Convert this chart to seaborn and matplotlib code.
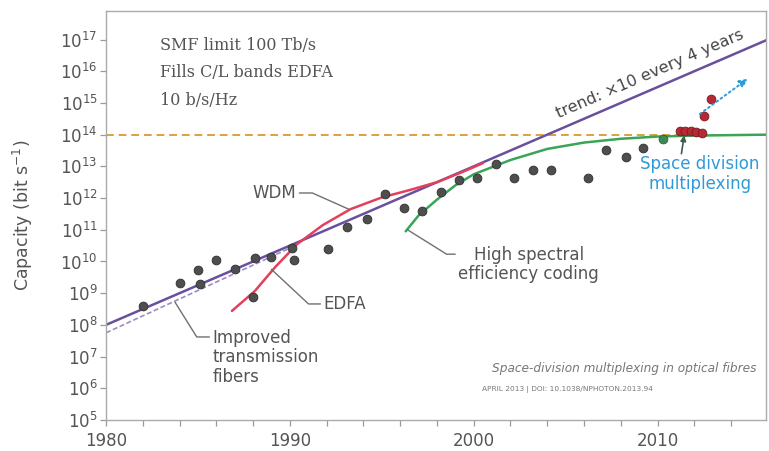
import math
import matplotlib
matplotlib.use("Agg")
import matplotlib.pyplot as plt
from matplotlib.ticker import FixedLocator, MultipleLocator, NullLocator, LogFormatterMathtext
import pandas as pd
import seaborn as sns

# Record transmission experiments: year and log10 of capacity (bit/s)
exp_years = [1982.0, 1984.0, 1985.0, 1985.1, 1986.0, 1987.0, 1988.0, 1988.1, 1989.0,
             1990.1, 1990.2, 1992.1, 1993.1, 1994.2, 1995.2, 1996.2, 1997.2, 1998.2,
             1999.2, 2000.2, 2001.2, 2002.2, 2003.2, 2004.2, 2006.2, 2007.2, 2008.3,
             2009.2]
exp_logcap = [8.58, 9.31, 9.72, 9.29, 10.05, 9.75, 8.88, 10.10, 10.15,
              10.42, 10.06, 10.40, 11.10, 11.35, 12.12, 11.70, 11.60, 12.20,
              12.56, 12.63, 13.08, 12.63, 12.90, 12.89, 12.63, 13.52, 13.28,
              13.57]
# Latest coherent single-core result
coh_years = [2010.3]
coh_logcap = [13.86]
# Space-division multiplexing experiments
sdm_years = [2011.2, 2011.5, 2011.8, 2012.1, 2012.4, 2012.55, 2012.9]
sdm_logcap = [14.10, 14.12, 14.10, 14.08, 14.06, 14.60, 15.13]

# Technology curves
trend_years = [1980.0, 2016.0]
trend_logcap = [8.0, 17.0]
fiber_years = [1980.0, 1990.0]
fiber_logcap = [7.75, 10.42]
wdm_years = [1986.85, 1988.1, 1989.2, 1990.4, 1991.8, 1993.3, 1995.0, 1996.5, 1998.0, 1999.5, 2000.5]
wdm_logcap = [8.44, 9.07, 9.82, 10.55, 11.15, 11.65, 12.02, 12.25, 12.50, 12.85, 13.10]
coding_years = [1996.3, 1997.0, 1998.0, 1999.0, 2000.0, 2002.0, 2004.0, 2006.0, 2008.0, 2010.0, 2012.0, 2016.0]
coding_logcap = [10.95, 11.45, 11.95, 12.40, 12.75, 13.20, 13.55, 13.75, 13.87, 13.94, 13.97, 14.0]
sdm_future_years = [2012.3, 2014.9]
sdm_future_logcap = [14.65, 15.76]

smf_limit = 1e14
year_ticks = [1980, 1990, 2000, 2010]
cap_exponents = list(range(5, 18))

sns.set_style("ticks")
plt.rcParams["font.family"] = ["DejaVu Sans"]

fig = plt.figure(figsize=(7.69, 4.51), dpi=100)
ax = fig.add_axes([106 / 769, 1 - 420 / 451, 660 / 769, 409 / 451])
ax.set_yscale("log")
ax.set_xlim(1980, 2015.9)
ax.set_ylim(1e5, 10 ** 17.9)


def frame(years, logs):
    return pd.DataFrame({"year": years, "cap": [10 ** v for v in logs]})


purple = "#6a4f9c"
red = "#e2405c"
green = "#3aa457"
blue = "#2e9ad8"

# SMF capacity limit
ax.axhline(smf_limit, color="#d9a23c", lw=1.4, ls=(0, (4, 2.5)), zorder=2)

sns.lineplot(data=frame(fiber_years, fiber_logcap), x="year", y="cap", ax=ax,
             color="#9a8cc4", lw=1.2, ls=(0, (3, 1.5)), sort=False, estimator=None)
sns.lineplot(data=frame(trend_years, trend_logcap), x="year", y="cap", ax=ax,
             color=purple, lw=1.8, sort=False, estimator=None)
sns.lineplot(data=frame(wdm_years, wdm_logcap), x="year", y="cap", ax=ax,
             color=red, lw=1.8, sort=False, estimator=None)
sns.lineplot(data=frame(coding_years, coding_logcap), x="year", y="cap", ax=ax,
             color=green, lw=1.8, sort=False, estimator=None)

sns.scatterplot(data=frame(exp_years, exp_logcap), x="year", y="cap", ax=ax,
                color="#4e4e4e", edgecolor="#2e2e2e", linewidth=0.6, s=40, zorder=4)
sns.scatterplot(data=frame(coh_years, coh_logcap), x="year", y="cap", ax=ax,
                color="#3d8a55", edgecolor="#2e5e3a", linewidth=0.6, s=40, zorder=4)
sns.scatterplot(data=frame(sdm_years, sdm_logcap), x="year", y="cap", ax=ax,
                color="#b52a35", edgecolor="#7a1a22", linewidth=0.6, s=40, zorder=5)

# Projected SDM growth
ax.annotate("", xy=(sdm_future_years[1], 10 ** sdm_future_logcap[1]),
            xytext=(sdm_future_years[0], 10 ** sdm_future_logcap[0]),
            arrowprops=dict(arrowstyle="-|>", color=blue, lw=1.4, ls=":",
                            mutation_scale=12, shrinkA=0, shrinkB=0), zorder=6)

# Axes styling
ax.set_xlabel("")
ax.set_ylabel("Capacity (bit s$^{-1}$)", fontsize=12.5, color="#555555")
ax.yaxis.set_label_coords(-0.108, 0.5)
ax.xaxis.set_major_locator(FixedLocator(year_ticks))
ax.xaxis.set_minor_locator(MultipleLocator(2))
ax.yaxis.set_major_locator(FixedLocator([10.0 ** e for e in cap_exponents]))
ax.yaxis.set_major_formatter(LogFormatterMathtext())
ax.yaxis.set_minor_locator(NullLocator())
ax.tick_params(axis="both", which="both", direction="out", color="#999999",
               labelcolor="#555555", length=4, width=0.9)
ax.tick_params(axis="x", labelsize=12, pad=5)
ax.tick_params(axis="y", labelsize=12, pad=2)
for sp in ax.spines.values():
    sp.set_color("#aaaaaa")
    sp.set_linewidth(1.0)

# Limit description
ax.text(0.082, 0.937, "SMF limit 100 Tb/s\nFills C/L bands EDFA\n10 b/s/Hz",
        transform=ax.transAxes, family="DejaVu Serif", fontsize=11.5,
        color="#555555", ha="left", va="top", linespacing=1.8)

# Trend label following the trend line
p1 = ax.transData.transform((trend_years[0], 10 ** trend_logcap[0]))
p2 = ax.transData.transform((trend_years[1], 10 ** trend_logcap[1]))
angle = math.degrees(math.atan2(p2[1] - p1[1], p2[0] - p1[0]))
ax.text(2009.6, 10 ** 15.92, "trend: \u00d710 every 4 years", rotation=angle,
        rotation_mode="anchor", ha="center", va="center", fontsize=11.5, color="#444444")

lead = dict(arrowstyle="-", color="#707070", lw=1.0, shrinkA=0, shrinkB=0)
ax.annotate("WDM", xy=(1993.2, 10 ** 11.65), xytext=(1989.15, 10 ** 12.16),
            ha="center", va="center", fontsize=12, color="#555555",
            arrowprops=dict(lead, relpos=(1.0, 0.5),
                            connectionstyle="angle,angleA=0,angleB=-24,rad=0"))
ax.annotate("EDFA", xy=(1989.0, 10 ** 9.75), xytext=(1993.0, 10 ** 8.66),
            ha="center", va="center", fontsize=12, color="#555555",
            arrowprops=dict(lead, relpos=(0.0, 0.5),
                            connectionstyle="angle,angleA=0,angleB=-43,rad=0"))
ax.annotate("Improved\ntransmission\nfibers", xy=(1983.75, 10 ** 8.72),
            xytext=(1985.8, 10 ** 7.87), ha="left", va="top", fontsize=12,
            color="#555555", linespacing=1.1,
            arrowprops=dict(lead, relpos=(0.0, 0.86),
                            connectionstyle="angle,angleA=0,angleB=122,rad=0"))
ax.annotate("High spectral\nefficiency coding", xy=(1996.4, 10 ** 11.0),
            xytext=(2003.0, 10 ** 9.9), ha="center", va="center", fontsize=12,
            color="#555555", linespacing=1.1, multialignment="center",
            arrowprops=dict(lead, relpos=(0.1, 0.78),
                            connectionstyle="angle,angleA=0,angleB=148,rad=0"))
ax.text(2012.3, 10 ** 12.76, "Space division\nmultiplexing", ha="center", va="center",
        fontsize=12, color=blue, linespacing=1.1)
ax.annotate("", xy=(2011.45, 10 ** 13.98), xytext=(2011.3, 10 ** 13.4),
            arrowprops=dict(arrowstyle="-|>", color="#3f5f4a", lw=1.2,
                            mutation_scale=8, shrinkA=0, shrinkB=0))

# Source note
ax.text(0.985, 0.125, "Space-division multiplexing in optical fibres", transform=ax.transAxes,
        ha="right", va="center", fontsize=8.7, style="italic", color="#777777")
ax.text(0.570, 0.075, "APRIL 2013 | DOI: 10.1038/NPHOTON.2013.94", transform=ax.transAxes,
        ha="left", va="center", fontsize=5.3, color="#777777")

fig.savefig("out.png", dpi=100)
